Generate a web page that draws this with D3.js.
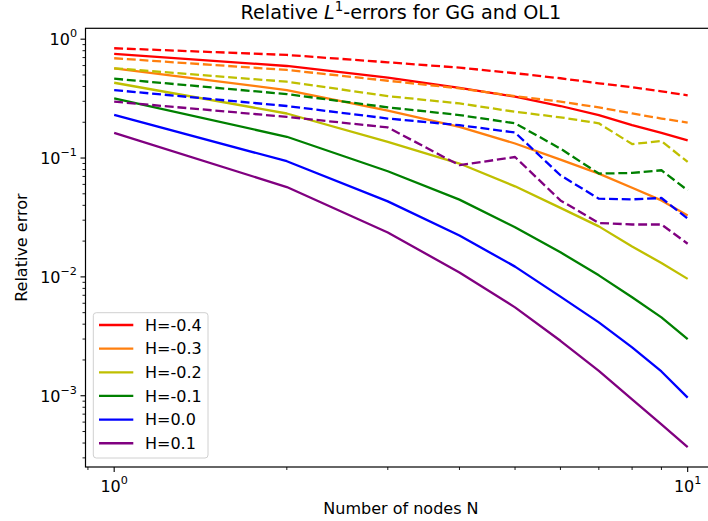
<!DOCTYPE html>
<html><head><meta charset="utf-8">
<script src="https://cdn.jsdelivr.net/npm/d3@7/dist/d3.min.js"></script>
<style>
html,body{margin:0;padding:0;background:#fff;}
svg{display:block;font-family:"DejaVu Sans",sans-serif;}
</style></head>
<body>
<svg id="chart" width="708" height="521"></svg>
<script>
// ---- data ----
const nodes = [1,2,3,4,5,6,7,8,9,10];
const hLabels = ["H=-0.4","H=-0.3","H=-0.2","H=-0.1","H=0.0","H=0.1"];
const colors = ["#ff0000","#ff7f0e","#bfbf00","#008000","#0000ff","#800080"];
// GG (solid)
const ggHm04 = [0.751,0.595,0.474,0.390,0.328,0.274,0.230,0.189,0.163,0.141];
const ggHm03 = [0.569,0.373,0.250,0.183,0.1325,0.0971,0.0740,0.0562,0.0440,0.0329];
const ggHm02 = [0.430,0.237,0.137,0.0899,0.0578,0.0381,0.0266,0.0180,0.0131,0.00962];
const ggHm01 = [0.318,0.151,0.0774,0.0447,0.0262,0.0161,0.0103,0.00673,0.00456,0.00300];
const ggH00  = [0.231,0.0940,0.0432,0.0223,0.0122,0.00682,0.00414,0.00255,0.00160,0.000964];
const ggH01  = [0.163,0.0570,0.0236,0.0109,0.00554,0.00290,0.00162,0.000934,0.000575,0.000370];
// OL1 (dashed)
const olHm04 = [0.839,0.737,0.639,0.576,0.517,0.469,0.425,0.394,0.364,0.337];
const olHm03 = [0.691,0.551,0.447,0.386,0.332,0.298,0.267,0.237,0.215,0.199];
const olHm02 = [0.569,0.439,0.332,0.288,0.245,0.220,0.196,0.131,0.139,0.0927];
const olHm01 = [0.465,0.345,0.267,0.230,0.196,0.120,0.0740,0.0749,0.0789,0.0535];
const olH00  = [0.373,0.274,0.215,0.189,0.164,0.0716,0.0455,0.0449,0.0461,0.0309];
const olH01  = [0.298,0.222,0.181,0.0870,0.102,0.0440,0.0284,0.0276,0.0276,0.0190];

const ggSeries = [ggHm04,ggHm03,ggHm02,ggHm01,ggH00,ggH01];
const olSeries = [olHm04,olHm03,olHm02,olHm01,olH00,olH01];

const titleMain = "Relative ";
const xLabel = "Number of nodes N";
const yLabel = "Relative error";

// ---- layout ----
const svg = d3.select("#chart");
const L = 85.5, T = 28.3, B = 467;
const decX = 573.5;
const xDomLog = [-0.05, 1.05];
const R = L + (xDomLog[1]-xDomLog[0])*decX;

const allVals = ggSeries.concat(olSeries).flat();
const lmin = Math.log10(d3.min(allVals)), lmax = Math.log10(d3.max(allVals));
const m = (lmax-lmin)*0.05;

const x = d3.scaleLog().domain([Math.pow(10,xDomLog[0]), Math.pow(10,xDomLog[1])]).range([L, R]);
const y = d3.scaleLog().domain([Math.pow(10,lmin-m), Math.pow(10,lmax+m)]).range([B, T]);

svg.append("defs").append("clipPath").attr("id","clip")
  .append("rect").attr("x",L).attr("y",T).attr("width",R-L).attr("height",B-T);

const g = svg.append("g").attr("clip-path","url(#clip)");
const line = d3.line().x((d,i)=>x(nodes[i])).y(d=>y(d));

// GG solid
ggSeries.forEach((s,i)=>{
  g.append("path").datum(s).attr("d",line).attr("fill","none")
   .attr("stroke",colors[i]).attr("stroke-width",2.3).attr("stroke-linejoin","round").attr("stroke-linecap","butt");
});
// OL1 dashed
olSeries.forEach((s,i)=>{
  g.append("path").datum(s).attr("d",line).attr("fill","none")
   .attr("stroke",colors[i]).attr("stroke-width",2.3).attr("stroke-dasharray","8.9,3.8").attr("stroke-linejoin","round");
});

// frame
svg.append("rect").attr("x",L).attr("y",T).attr("width",R-L).attr("height",B-T)
  .attr("fill","none").attr("stroke","#000").attr("stroke-width",1.2);

// ticks helper
function sup(sel, base, exp){
  sel.append("tspan").text(base);
  sel.append("tspan").attr("font-size","11.2px").attr("dy","-8").text(exp);
}
const [ymn, ymx] = y.domain();
// y ticks
for (let e=-5; e<=1; e++){
  for (let k=1;k<=9;k++){
    const v = k*Math.pow(10,e);
    if (v < ymn || v > ymx) continue;
    const py = y(v);
    const major = k===1;
    svg.append("line").attr("x1",L).attr("x2",L-(major?5:3)).attr("y1",py).attr("y2",py)
      .attr("stroke","#000").attr("stroke-width",major?1.1:0.9);
    if (major){
      const t = svg.append("text").attr("x",L-8.5).attr("y",py+5.8).attr("text-anchor","end")
        .attr("font-size","16px").attr("fill","#000");
      sup(t,"10", e===0?"0":"\u2212"+(-e));
    }
  }
}
// x ticks
const [xmn, xmx] = x.domain();
for (let e=-1;e<=1;e++){
  for (let k=1;k<=9;k++){
    const v = k*Math.pow(10,e);
    if (v < xmn || v > xmx) continue;
    const px = x(v);
    const major = k===1;
    svg.append("line").attr("x1",px).attr("x2",px).attr("y1",B).attr("y2",B+(major?5:3))
      .attr("stroke","#000").attr("stroke-width",major?1.1:0.9);
    if (major){
      const t = svg.append("text").attr("x",px).attr("y",491.5).attr("text-anchor","middle")
        .attr("font-size","16px").attr("fill","#000");
      sup(t,"10", String(e));
    }
  }
}

// axis labels
svg.append("text").attr("x",(L+R)/2).attr("y",514).attr("text-anchor","middle")
  .attr("font-size","16px").text(xLabel);
svg.append("text").attr("transform",`translate(27,${(T+B)/2}) rotate(-90)`).attr("text-anchor","middle")
  .attr("font-size","16px").text(yLabel);

// title
const tt = svg.append("text").attr("x",(L+R)/2).attr("y",19).attr("text-anchor","middle").attr("font-size","19.2px");
tt.append("tspan").text(titleMain);
tt.append("tspan").attr("font-style","italic").text("L");
tt.append("tspan").attr("font-size","13.4px").attr("dy","-8").text("1");
tt.append("tspan").attr("dy","8").text("-errors for GG and OL1");

// legend
const lg = svg.append("g");
lg.append("rect").attr("x",93.3).attr("y",312.7).attr("width",114.7).attr("height",145.3)
  .attr("rx",3).attr("fill","#fff").attr("fill-opacity",0.8).attr("stroke","#d0d0d0").attr("stroke-width",1);
hLabels.forEach((lab,i)=>{
  const cy = 325 + i*23.65;
  lg.append("line").attr("x1",99).attr("x2",133.3).attr("y1",cy).attr("y2",cy)
    .attr("stroke",colors[i]).attr("stroke-width",2.3);
  lg.append("text").attr("x",145).attr("y",cy+5.8).attr("font-size","16px").text(lab);
});
</script>
</body></html>
